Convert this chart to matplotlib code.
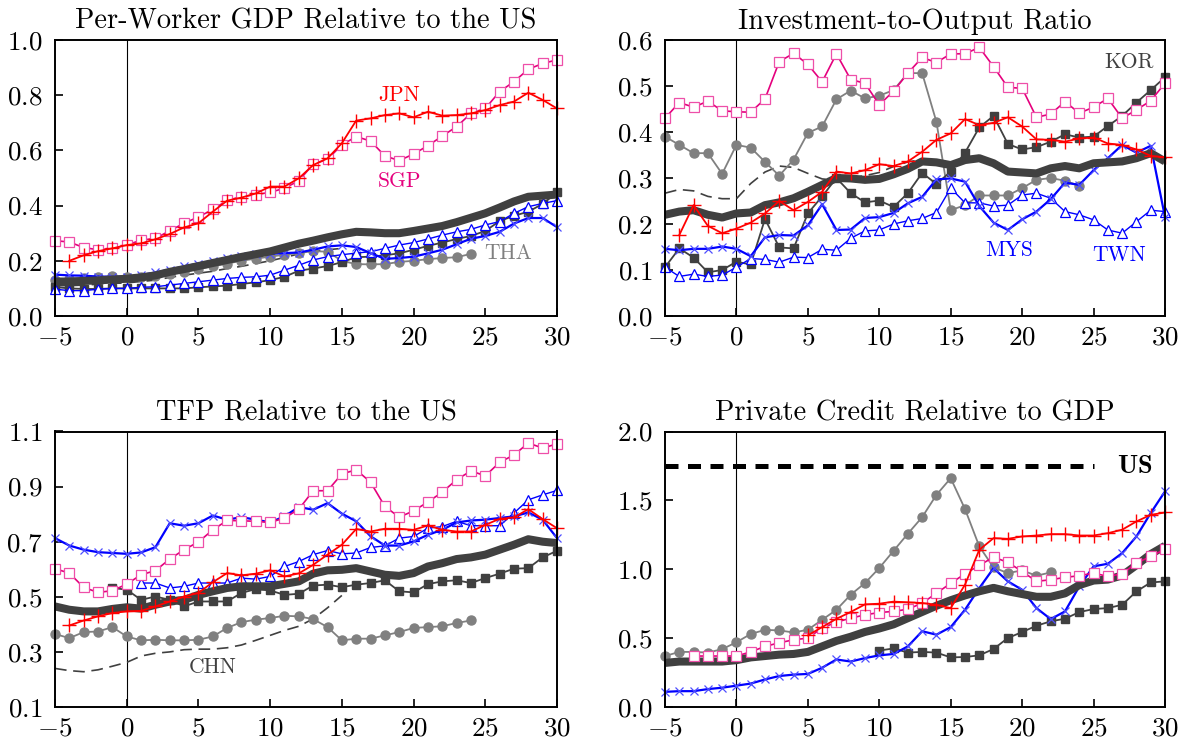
import matplotlib.pyplot as plt

plt.rcParams['font.family'] = 'serif'
plt.rcParams['font.serif'] = ['cmr10']
plt.rcParams['mathtext.fontset'] = 'cm'
plt.rcParams['axes.formatter.use_mathtext'] = True

# ---- data: years relative to takeoff, each series starts at the given year ----
# Per-worker GDP relative to the US
gdp_jpn_start = -4
gdp_jpn = [0.2, 0.22, 0.235, 0.245, 0.257, 0.263, 0.278, 0.297, 0.321, 0.336, 0.378, 0.418,
           0.429, 0.444, 0.469, 0.469, 0.499, 0.547, 0.571, 0.626, 0.708, 0.716, 0.728, 0.734,
           0.72, 0.74, 0.726, 0.728, 0.734, 0.746, 0.764, 0.777, 0.809, 0.783, 0.752]
gdp_sgp = [0.273, 0.268, 0.248, 0.24, 0.245, 0.257, 0.275, 0.281, 0.309, 0.336, 0.359, 0.386,
           0.419, 0.432, 0.44, 0.448, 0.463, 0.49, 0.55, 0.568, 0.62, 0.65, 0.634, 0.58, 0.563,
           0.587, 0.617, 0.652, 0.686, 0.734, 0.752, 0.813, 0.849, 0.894, 0.915, 0.928]
gdp_tha = [0.13, 0.135, 0.138, 0.14, 0.145, 0.14, 0.14, 0.145, 0.152, 0.16, 0.17, 0.18, 0.19,
           0.2, 0.208, 0.215, 0.222, 0.228, 0.235, 0.233, 0.2, 0.188, 0.187, 0.188, 0.196, 0.2,
           0.206, 0.21, 0.213, 0.225]
gdp_kor = [0.105, 0.1, 0.098, 0.098, 0.1, 0.1, 0.1, 0.1, 0.1, 0.1, 0.104, 0.107, 0.11, 0.116,
           0.122, 0.13, 0.142, 0.164, 0.172, 0.181, 0.195, 0.213, 0.215, 0.22, 0.227, 0.24,
           0.254, 0.266, 0.279, 0.29, 0.308, 0.344, 0.363, 0.378, 0.406, 0.448]
gdp_mys = [0.15, 0.147, 0.146, 0.143, 0.142, 0.142, 0.148, 0.158, 0.168, 0.18, 0.19, 0.2, 0.21,
           0.218, 0.226, 0.225, 0.228, 0.23, 0.24, 0.252, 0.256, 0.25, 0.228, 0.207, 0.21,
           0.215, 0.227, 0.24, 0.26, 0.28, 0.29, 0.305, 0.335, 0.355, 0.355, 0.322]
gdp_twn = [0.097, 0.092, 0.092, 0.097, 0.1, 0.1, 0.104, 0.106, 0.112, 0.118, 0.124, 0.13,
           0.136, 0.14, 0.142, 0.148, 0.166, 0.184, 0.203, 0.215, 0.222, 0.228, 0.233, 0.245,
           0.257, 0.266, 0.279, 0.293, 0.305, 0.314, 0.33, 0.342, 0.372, 0.396, 0.408, 0.418]
gdp_chn = [0.11, 0.11, 0.112, 0.115, 0.118, 0.12, 0.125, 0.13, 0.14, 0.148, 0.155, 0.162,
           0.172, 0.18, 0.19, 0.2, 0.212, 0.225, 0.235, 0.24, 0.245]
gdp_avg = [0.125, 0.125, 0.127, 0.129, 0.132, 0.135, 0.14, 0.147, 0.16, 0.17, 0.181, 0.192,
           0.203, 0.214, 0.224, 0.234, 0.248, 0.262, 0.273, 0.285, 0.296, 0.305, 0.303, 0.3,
           0.3, 0.308, 0.317, 0.326, 0.34, 0.356, 0.372, 0.393, 0.415, 0.432, 0.436, 0.44]

# Investment-to-output ratio
inv_jpn_start = -4
inv_jpn = [0.176, 0.241, 0.196, 0.18, 0.19, 0.203, 0.223, 0.25, 0.23, 0.248, 0.27, 0.314,
           0.31, 0.317, 0.33, 0.326, 0.336, 0.357, 0.383, 0.397, 0.428, 0.415, 0.42, 0.432,
           0.412, 0.384, 0.383, 0.379, 0.386, 0.388, 0.375, 0.372, 0.362, 0.348, 0.345]
inv_sgp = [0.43, 0.464, 0.454, 0.467, 0.446, 0.444, 0.443, 0.472, 0.553, 0.571, 0.547, 0.509,
           0.57, 0.514, 0.506, 0.459, 0.489, 0.528, 0.562, 0.551, 0.57, 0.57, 0.584, 0.542,
           0.497, 0.495, 0.432, 0.439, 0.466, 0.441, 0.454, 0.473, 0.43, 0.448, 0.468, 0.506]
inv_tha = [0.39, 0.372, 0.354, 0.354, 0.309, 0.372, 0.366, 0.335, 0.305, 0.34, 0.398, 0.412,
           0.471, 0.49, 0.473, 0.479, 0.491, 0.528, 0.528, 0.422, 0.23, 0.241, 0.262, 0.262,
           0.262, 0.278, 0.296, 0.3, 0.294, 0.283]
inv_kor = [0.106, 0.147, 0.127, 0.095, 0.1, 0.118, 0.112, 0.211, 0.149, 0.147, 0.223, 0.26,
           0.3, 0.267, 0.247, 0.251, 0.237, 0.267, 0.311, 0.287, 0.314, 0.355, 0.41, 0.435,
           0.374, 0.362, 0.367, 0.379, 0.395, 0.388, 0.39, 0.413, 0.435, 0.464, 0.491, 0.519]
inv_mys = [0.146, 0.143, 0.146, 0.146, 0.151, 0.146, 0.13, 0.171, 0.176, 0.175, 0.197, 0.243,
           0.187, 0.188, 0.213, 0.215, 0.224, 0.245, 0.259, 0.297, 0.299, 0.292, 0.239, 0.203,
           0.187, 0.21, 0.227, 0.254, 0.29, 0.285, 0.317, 0.343, 0.372, 0.355, 0.37, 0.215]
inv_twn = [0.106, 0.086, 0.091, 0.086, 0.089, 0.106, 0.125, 0.123, 0.117, 0.128, 0.127, 0.145,
           0.143, 0.169, 0.185, 0.187, 0.2, 0.207, 0.212, 0.225, 0.278, 0.246, 0.246, 0.239,
           0.241, 0.263, 0.267, 0.256, 0.227, 0.22, 0.209, 0.187, 0.18, 0.205, 0.23, 0.227]
inv_chn = [0.267, 0.275, 0.272, 0.26, 0.255, 0.255, 0.288, 0.313, 0.326, 0.323, 0.31, 0.298,
           0.295, 0.3, 0.305, 0.312, 0.325, 0.335, 0.34]
inv_avg = [0.22, 0.227, 0.23, 0.22, 0.214, 0.223, 0.225, 0.241, 0.247, 0.256, 0.27, 0.285,
           0.3, 0.299, 0.296, 0.298, 0.308, 0.32, 0.336, 0.334, 0.328, 0.339, 0.343, 0.332,
           0.314, 0.312, 0.31, 0.321, 0.326, 0.321, 0.332, 0.334, 0.336, 0.343, 0.354, 0.336]

# TFP relative to the US
tfp_jpn_start = -4
tfp_jpn = [0.396, 0.414, 0.429, 0.441, 0.447, 0.449, 0.465, 0.483, 0.501, 0.514, 0.553, 0.586,
           0.578, 0.584, 0.596, 0.574, 0.585, 0.616, 0.653, 0.689, 0.746, 0.737, 0.747, 0.747,
           0.743, 0.759, 0.743, 0.737, 0.737, 0.761, 0.783, 0.788, 0.818, 0.782, 0.749]
tfp_sgp = [0.602, 0.586, 0.534, 0.516, 0.522, 0.546, 0.58, 0.595, 0.637, 0.671, 0.699, 0.743,
           0.777, 0.776, 0.774, 0.77, 0.786, 0.818, 0.885, 0.885, 0.946, 0.961, 0.916, 0.828,
           0.789, 0.812, 0.844, 0.88, 0.925, 0.957, 0.939, 0.988, 1.015, 1.058, 1.04, 1.055]
tfp_tha = [0.365, 0.35, 0.372, 0.374, 0.39, 0.356, 0.342, 0.344, 0.342, 0.342, 0.344, 0.356,
           0.387, 0.408, 0.417, 0.423, 0.431, 0.429, 0.419, 0.39, 0.342, 0.348, 0.348, 0.36,
           0.372, 0.387, 0.39, 0.393, 0.405, 0.414]
tfp_kor_start = -1
tfp_kor = [0.532, 0.526, 0.489, 0.501, 0.489, 0.465, 0.483, 0.483, 0.483, 0.514, 0.528, 0.523,
           0.507, 0.511, 0.541, 0.544, 0.535, 0.544, 0.55, 0.56, 0.52, 0.516, 0.546, 0.556,
           0.56, 0.55, 0.568, 0.584, 0.602, 0.604, 0.643, 0.667]
tfp_mys = [0.713, 0.686, 0.671, 0.662, 0.659, 0.656, 0.661, 0.68, 0.767, 0.758, 0.767, 0.795,
           0.78, 0.789, 0.78, 0.77, 0.792, 0.826, 0.816, 0.84, 0.802, 0.774, 0.72, 0.686,
           0.686, 0.701, 0.725, 0.743, 0.77, 0.777, 0.78, 0.786, 0.792, 0.806, 0.78, 0.713]
tfp_twn_start = 1
tfp_twn = [0.55, 0.55, 0.532, 0.538, 0.55, 0.55, 0.55, 0.568, 0.564, 0.574, 0.61, 0.628,
           0.653, 0.668, 0.656, 0.659, 0.679, 0.685, 0.713, 0.719, 0.749, 0.755, 0.774, 0.758,
           0.758, 0.758, 0.804, 0.852, 0.87, 0.886]
tfp_chn = [0.24, 0.232, 0.228, 0.235, 0.248, 0.262, 0.285, 0.295, 0.3, 0.308, 0.31, 0.31,
           0.315, 0.325, 0.342, 0.36, 0.378, 0.393, 0.42, 0.46, 0.505]
tfp_avg = [0.465, 0.453, 0.447, 0.447, 0.456, 0.462, 0.457, 0.471, 0.483, 0.489, 0.507, 0.52,
           0.532, 0.538, 0.538, 0.538, 0.547, 0.556, 0.584, 0.596, 0.598, 0.604, 0.592, 0.58,
           0.576, 0.586, 0.61, 0.622, 0.637, 0.643, 0.653, 0.671, 0.689, 0.709, 0.7, 0.695]

# Private credit relative to GDP
us_credit_years = [-5, 25]
us_credit = [1.75, 1.75]
cr_jpn_start = 5
cr_jpn = [0.52, 0.58, 0.64, 0.69, 0.745, 0.75, 0.765, 0.76, 0.755, 0.742, 0.718, 0.888, 1.141,
          1.226, 1.221, 1.238, 1.245, 1.255, 1.255, 1.245, 1.245, 1.262, 1.287, 1.347, 1.395,
          1.412]
cr_sgp_start = -3
cr_sgp = [0.37, 0.37, 0.37, 0.37, 0.4, 0.44, 0.466, 0.488, 0.5, 0.573, 0.616, 0.645, 0.669,
          0.686, 0.694, 0.71, 0.754, 0.826, 0.898, 0.967, 1.028, 1.088, 1.05, 0.984, 0.912,
          0.924, 0.941, 0.953, 0.972, 0.948, 0.967, 1.045, 1.093, 1.146]
cr_tha = [0.37, 0.4, 0.4, 0.395, 0.42, 0.47, 0.53, 0.56, 0.556, 0.541, 0.561, 0.633, 0.706,
          0.815, 0.9, 1.009, 1.134, 1.258, 1.378, 1.54, 1.661, 1.437, 1.166, 1.013, 0.972,
          0.992, 0.953, 0.977]
cr_kor_start = 10
cr_kor = [0.41, 0.425, 0.395, 0.4, 0.395, 0.36, 0.363, 0.375, 0.421, 0.501, 0.544, 0.59,
          0.622, 0.641, 0.689, 0.711, 0.718, 0.742, 0.839, 0.904, 0.912]
cr_mys = [0.11, 0.115, 0.115, 0.13, 0.14, 0.155, 0.17, 0.2, 0.225, 0.235, 0.24, 0.285, 0.345,
          0.33, 0.355, 0.375, 0.385, 0.44, 0.55, 0.525, 0.58, 0.706, 0.863, 1.008, 0.912,
          0.851, 0.718, 0.638, 0.694, 0.875, 1.021, 1.04, 1.117, 1.238, 1.408, 1.565]
cr_avg = [0.32, 0.33, 0.33, 0.33, 0.33, 0.34, 0.36, 0.37, 0.38, 0.385, 0.4, 0.44, 0.48, 0.51,
          0.545, 0.57, 0.6, 0.645, 0.69, 0.735, 0.775, 0.81, 0.84, 0.865, 0.84, 0.82, 0.8, 0.8,
          0.825, 0.885, 0.918, 0.925, 0.955, 1.03, 1.11, 1.17]

DARK = '#404040'
STYLE = {
    'CHN': dict(color=DARK, lw=1.2, dashes=(7, 4)),
    'THA': dict(color='#808080', lw=1.3, marker='o', ms=6.5),
    'KOR': dict(color=DARK, lw=1.3, marker='s', ms=6),
    'TWN': dict(color='blue', lw=1.0, marker='^', ms=7.5, mfc='white', mew=0.9),
    'MYS': dict(color='blue', lw=1.6, marker='x', ms=6, mec='#4d4dff', mew=0.9),
    'SGP': dict(color='#e5007d', lw=1.2, marker='s', ms=6.5, mfc='white', mec='#ee4fa8', mew=0.9),
    'JPN': dict(color='red', lw=1.3, marker='+', ms=10, mew=1.0),
    'AVG': dict(color=DARK, lw=5.8, solid_capstyle='butt'),
}


def years(start, vals):
    return list(range(start, start + len(vals)))


def panel(ax, title, series, ylim, yticks):
    for name, start, vals in series:
        ax.plot(years(start, vals), vals, clip_on=False, **STYLE[name])
    ax.axvline(0, color='k', lw=0.8, zorder=0)
    ax.set_xlim(-5, 30)
    ax.set_ylim(*ylim)
    ax.set_xticks(range(-5, 31, 5))
    ax.set_yticks(yticks)
    ax.tick_params(direction='in', length=6, width=1.2, labelsize=19.5, top=False, right=False)
    ax.tick_params(axis='x', pad=7)
    ax.tick_params(axis='y', pad=9)
    for s in ax.spines.values():
        s.set_linewidth(1.4)
    ax.set_title(title, fontsize=20.5, pad=8)


fig = plt.figure(figsize=(11.79, 7.5), dpi=100)
ax1 = fig.add_axes([55 / 1179, 1 - 316 / 750, 502 / 1179, 276 / 750])
ax2 = fig.add_axes([665 / 1179, 1 - 316 / 750, 500 / 1179, 276 / 750])
ax3 = fig.add_axes([55 / 1179, 1 - 707 / 750, 502 / 1179, 275.5 / 750])
ax4 = fig.add_axes([665 / 1179, 1 - 707 / 750, 500 / 1179, 275.5 / 750])

panel(ax1, 'Per-Worker GDP Relative to the US',
      [('CHN', -5, gdp_chn), ('THA', -5, gdp_tha), ('KOR', -5, gdp_kor), ('TWN', -5, gdp_twn),
       ('MYS', -5, gdp_mys), ('AVG', -5, gdp_avg), ('SGP', -5, gdp_sgp),
       ('JPN', gdp_jpn_start, gdp_jpn)],
      (0, 1.0), [0, 0.2, 0.4, 0.6, 0.8, 1.0])
ax1.text(19, 0.8, 'JPN', color='red', fontsize=15.5, ha='center', va='center')
ax1.text(19, 0.49, 'SGP', color='#e5007d', fontsize=15.5, ha='center', va='center')
ax1.text(26.6, 0.228, 'THA', color='#808080', fontsize=15.5, ha='center', va='center')

panel(ax2, 'Investment-to-Output Ratio',
      [('CHN', -5, inv_chn), ('THA', -5, inv_tha), ('KOR', -5, inv_kor), ('TWN', -5, inv_twn),
       ('MYS', -5, inv_mys), ('AVG', -5, inv_avg), ('SGP', -5, inv_sgp),
       ('JPN', inv_jpn_start, inv_jpn)],
      (0, 0.6), [0, 0.1, 0.2, 0.3, 0.4, 0.5, 0.6])
ax2.text(27.5, 0.552, 'KOR', color=DARK, fontsize=15.5, ha='center', va='center')
ax2.text(19.1, 0.143, 'MYS', color='blue', fontsize=15.5, ha='center', va='center')
ax2.text(26.8, 0.133, 'TWN', color='blue', fontsize=15.5, ha='center', va='center')

panel(ax3, 'TFP Relative to the US',
      [('CHN', -5, tfp_chn), ('THA', -5, tfp_tha), ('KOR', tfp_kor_start, tfp_kor),
       ('TWN', tfp_twn_start, tfp_twn), ('MYS', -5, tfp_mys), ('AVG', -5, tfp_avg),
       ('SGP', -5, tfp_sgp), ('JPN', tfp_jpn_start, tfp_jpn)],
      (0.1, 1.1), [0.1, 0.3, 0.5, 0.7, 0.9, 1.1])
ax3.text(6, 0.243, 'CHN', color=DARK, fontsize=15.5, ha='center', va='center')

panel(ax4, 'Private Credit Relative to GDP',
      [('THA', -5, cr_tha), ('KOR', cr_kor_start, cr_kor), ('MYS', -5, cr_mys),
       ('AVG', -5, cr_avg), ('SGP', cr_sgp_start, cr_sgp), ('JPN', cr_jpn_start, cr_jpn)],
      (0, 2.0), [0, 0.5, 1.0, 1.5, 2.0])
ax4.plot(us_credit_years, us_credit, color='black', lw=3.6, dashes=(2.6, 1.9))
ax4.text(27.9, 1.75, r'$\mathbf{US}$', fontsize=19, ha='center', va='center')

fig.savefig('out.png', dpi=100)
